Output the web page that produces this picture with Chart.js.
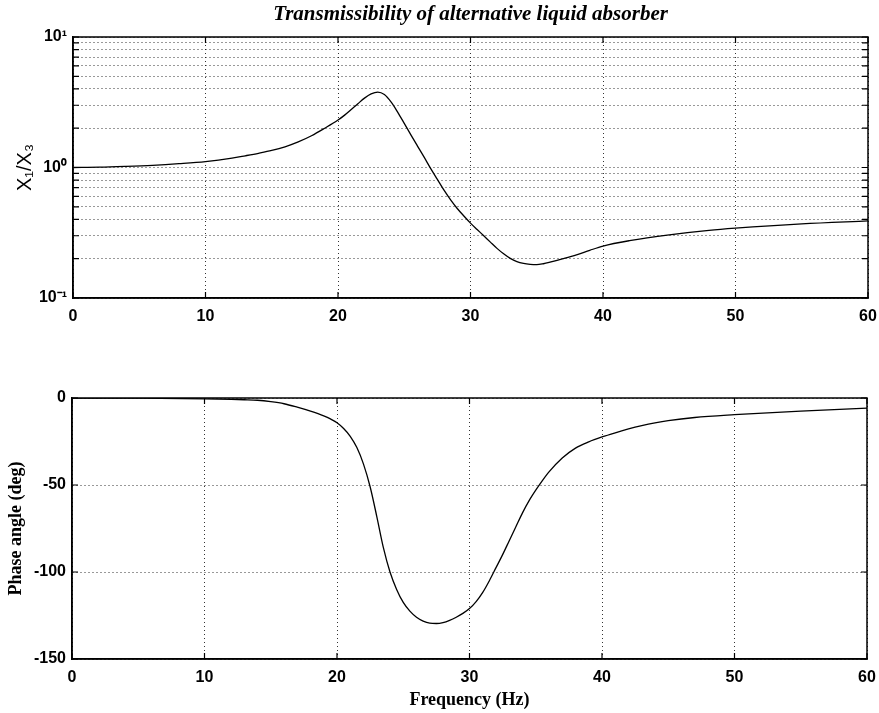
<!DOCTYPE html>
<html>
<head>
<meta charset="utf-8">
<script src="https://cdn.jsdelivr.net/npm/chart.js@4"></script>
<style>
    html, body { margin: 0; padding: 0; background: #fff; }
    #wrap { position: relative; width: 879px; height: 713px; }
    .box { position: absolute; left: 0; width: 879px; }
</style>
</head>
<body>
<div id="wrap">
    <div class="box" style="top:0;height:330px"><canvas id="magChart"></canvas></div>
    <div class="box" style="top:360px;height:353px"><canvas id="phaseChart"></canvas></div>
</div>
<script>
//  Values
const freqMag   = [0, 2, 4, 6, 8, 10, 12, 13, 14, 15, 16, 17, 18, 19, 20, 20.5, 21, 21.5, 22, 22.5, 23, 23.5, 24, 24.5, 25, 25.5, 26, 26.5, 27, 27.5, 28, 28.5, 29, 29.5, 30, 30.5, 31, 31.5, 32, 32.5, 33, 33.5, 34, 34.5, 35, 35.5, 36, 37, 38, 39, 40, 42, 45, 48, 50, 55, 60];
const magnitude = [1.00, 1.005, 1.02, 1.04, 1.07, 1.11, 1.18, 1.23, 1.285, 1.35, 1.44, 1.57, 1.75, 2.0, 2.31, 2.52, 2.78, 3.08, 3.40, 3.66, 3.78, 3.62, 3.18, 2.66, 2.18, 1.78, 1.46, 1.20, 0.98, 0.81, 0.67, 0.565, 0.485, 0.425, 0.375, 0.335, 0.30, 0.268, 0.240, 0.218, 0.201, 0.190, 0.184, 0.181, 0.180, 0.183, 0.188, 0.20, 0.214, 0.232, 0.25, 0.275, 0.305, 0.33, 0.343, 0.37, 0.39];

const freqPhase = [0, 5, 10, 12, 13, 14, 15, 16, 17, 18, 19, 19.5, 20, 20.5, 21, 21.5, 22, 22.5, 23, 23.5, 24, 24.5, 25, 25.5, 26, 26.5, 27, 27.5, 28, 28.5, 29, 29.5, 30, 30.5, 31, 31.5, 32, 32.5, 33, 33.5, 34, 34.5, 35, 35.5, 36, 37, 38, 39, 40, 41, 42, 43, 44, 45, 47, 50, 55, 60];
const phase     = [0, -0.1, -0.5, -0.8, -1.0, -1.3, -2.1, -3.3, -5.3, -7.6, -10.3, -12.0, -14.2, -17.5, -22, -28.5, -38, -51, -68, -86, -100, -110, -117.5, -122.5, -126, -128.2, -129.4, -129.6, -129.1, -127.8, -126, -123.8, -121, -117, -111.7, -105, -97.5, -90, -82, -74, -66, -59, -53, -47.5, -42.5, -34.5, -28.8, -25.2, -22.4, -20, -17.8, -15.9, -14.3, -13, -11.2, -9.6, -7.5, -5.8];

const freqTicks  = [0, 10, 20, 30, 40, 50, 60];
const logTicks   = [0.1, 0.2, 0.3, 0.4, 0.5, 0.6, 0.7, 0.8, 0.9, 1, 2, 3, 4, 5, 6, 7, 8, 9, 10];
const logLabels  = { 0.1: '10\u207B\u00B9', 1: '10\u2070', 10: '10\u00B9' };
const phaseTicks = [-150, -100, -50, 0];

const tickFont = { family: "'Liberation Sans', Arial, sans-serif", size: 16, weight: 'bold' };
const gridOpts = { color: 'rgba(0,0,0,0.8)', lineWidth: 1, drawTicks: false };
const borderOpts = { display: true, color: '#000', width: 1.5, dash: [1, 3] };

//  Frame round the plot area, with inward tick marks
const framePlugin = {
    id: 'frame',
    afterDraw(chart) {
        const { ctx, chartArea: a, scales } = chart;
        ctx.save();
        ctx.strokeStyle = '#000';
        ctx.lineWidth = 1.5;
        ctx.strokeRect(a.left, a.top, a.right - a.left, a.bottom - a.top);
        ctx.lineWidth = 1.2;
        ctx.beginPath();
        scales.x.ticks.forEach(t => {
            const px = scales.x.getPixelForValue(t.value);
            ctx.moveTo(px, a.bottom); ctx.lineTo(px, a.bottom - 6);
            ctx.moveTo(px, a.top);    ctx.lineTo(px, a.top + 6);
        });
        scales.y.ticks.forEach(t => {
            const py = scales.y.getPixelForValue(t.value);
            ctx.moveTo(a.left, py);  ctx.lineTo(a.left + 6, py);
            ctx.moveTo(a.right, py); ctx.lineTo(a.right - 6, py);
        });
        ctx.stroke();
        ctx.restore();
    }
};

function xScale(height, title) {
    return {
        type: 'linear',
        min: 0, max: 60,
        afterBuildTicks: s => { s.ticks = freqTicks.map(v => ({ value: v })); },
        afterFit: s => { s.height = height; s.paddingLeft = 0; s.paddingRight = 0; },
        ticks: { font: tickFont, color: '#000', padding: 9, maxRotation: 0 },
        grid: gridOpts,
        border: borderOpts,
        title: title
    };
}

//  Upper plot : transmissibility
new Chart(document.getElementById('magChart'), {
    type: 'line',
    data: {
        datasets: [{
            data: freqMag.map((f, i) => ({ x: f, y: magnitude[i] })),
            borderColor: '#000',
            borderWidth: 1.3,
            pointRadius: 0,
            cubicInterpolationMode: 'monotone'
        }]
    },
    options: {
        responsive: true,
        maintainAspectRatio: false,
        animation: false,
        layout: { padding: { left: 0, right: 11, top: 0, bottom: 0 } },
        plugins: {
            legend: { display: false },
            tooltip: { enabled: false },
            title: {
                display: true,
                fullSize: false,
                text: 'Transmissibility of alternative liquid absorber',
                color: '#000',
                font: { family: "'Liberation Serif', 'Times New Roman', serif", size: 21, weight: 'bold', style: 'italic', lineHeight: 1 },
                padding: { top: 4, bottom: 12 }
            }
        },
        scales: {
            x: xScale(32, { display: false }),
            y: {
                type: 'logarithmic',
                min: 0.1, max: 10,
                afterBuildTicks: s => { s.ticks = logTicks.map(v => ({ value: v })); },
                afterFit: s => { s.width = 73; },
                ticks: {
                    font: tickFont, color: '#000', padding: 6, autoSkip: false,
                    callback: v => logLabels[v] || ''
                },
                grid: gridOpts,
                border: borderOpts,
                title: {
                    display: true,
                    text: 'X\u2081/X\u2083',
                    color: '#000',
                    font: { family: "'Liberation Sans', Arial, sans-serif", size: 20 },
                    padding: { top: 13, bottom: 0 }
                }
            }
        }
    },
    plugins: [framePlugin]
});

//  Lower plot : phase angle
new Chart(document.getElementById('phaseChart'), {
    type: 'line',
    data: {
        datasets: [{
            data: freqPhase.map((f, i) => ({ x: f, y: phase[i] })),
            borderColor: '#000',
            borderWidth: 1.3,
            pointRadius: 0,
            cubicInterpolationMode: 'monotone'
        }]
    },
    options: {
        responsive: true,
        maintainAspectRatio: false,
        animation: false,
        layout: { padding: { left: 0, right: 12, top: 38, bottom: 0 } },
        plugins: {
            legend: { display: false },
            tooltip: { enabled: false },
            title: { display: false }
        },
        scales: {
            x: xScale(54, {
                display: true,
                text: 'Frequency (Hz)',
                color: '#000',
                font: { family: "'Liberation Serif', 'Times New Roman', serif", size: 18, weight: 'bold' },
                padding: { top: 0, bottom: 2 }
            }),
            y: {
                type: 'linear',
                min: -150, max: 0,
                afterBuildTicks: s => { s.ticks = phaseTicks.map(v => ({ value: v })); },
                afterFit: s => { s.width = 72; },
                ticks: { font: tickFont, color: '#000', padding: 6 },
                grid: gridOpts,
                border: borderOpts,
                title: {
                    display: true,
                    text: 'Phase angle (deg)',
                    color: '#000',
                    font: { family: "'Liberation Serif', 'Times New Roman', serif", size: 18, weight: 'bold' },
                    padding: { top: 6, bottom: 0 }
                }
            }
        }
    },
    plugins: [framePlugin]
});
</script>
</body>
</html>
